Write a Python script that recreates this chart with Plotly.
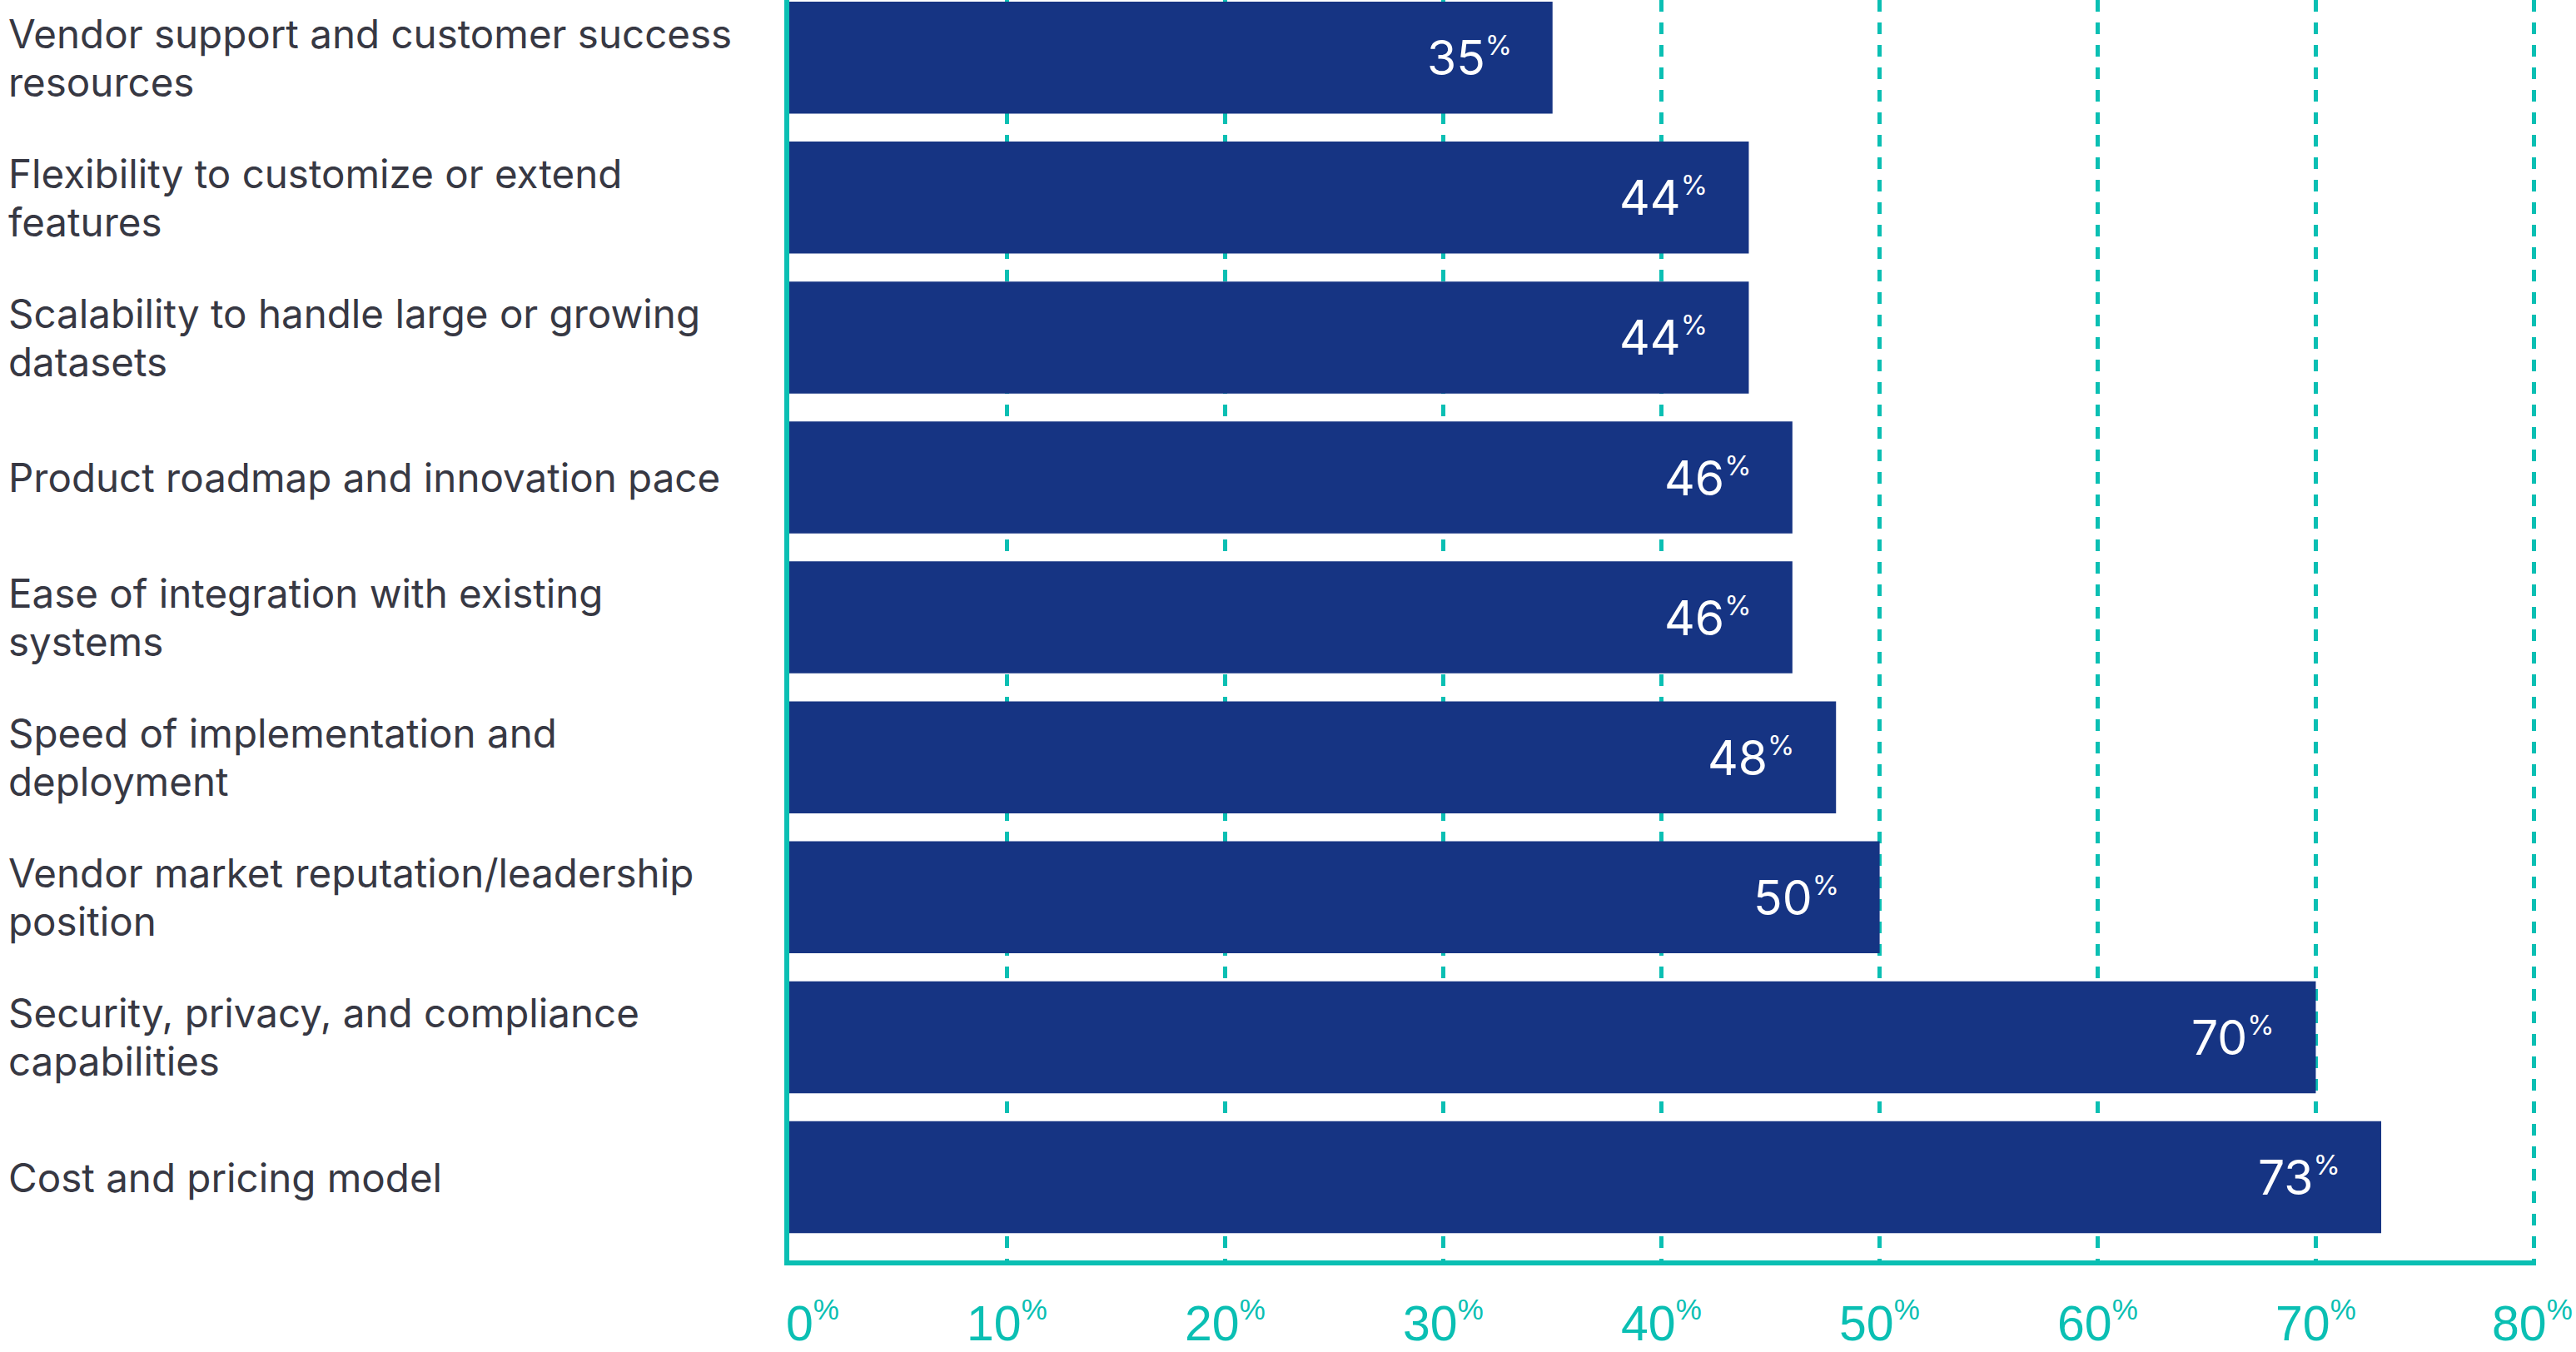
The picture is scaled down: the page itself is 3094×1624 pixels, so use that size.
import plotly.graph_objects as go

# ---- data (bottom -> top) ----
categories = [
    "Cost and pricing model",
    "Security, privacy, and compliance<br>capabilities",
    "Vendor market reputation/leadership<br>position",
    "Speed of implementation and<br>deployment",
    "Ease of integration with existing<br>systems",
    "Product roadmap and innovation pace",
    "Scalability to handle large or growing<br>datasets",
    "Flexibility to customize or extend<br>features",
    "Vendor support and customer success<br>resources",
]
values = [73, 70, 50, 48, 46, 46, 44, 44, 35]
tick_values = [0, 10, 20, 30, 40, 50, 60, 70, 80]
tick_labels = ["0", "10", "20", "30", "40", "50", "60", "70", "80"]

# ---- styling ----
W, H = 3094, 1624
ML, MR, MT, MB = 948, 48, 0, 110
PW = W - ML - MR
PH = H - MT - MB
TEAL = "#0ABFB3"
NAVY = "#163483"
TEXT = "#373843"
FONT = "Inter"
LINE_GAP = 58


def pct(num, size):
    return f"{num}<sup><span style='font-size:{size}px'>%</span></sup>"


fig = go.Figure()
fig.add_trace(go.Bar(
    x=values,
    y=list(range(len(categories))),
    orientation="h",
    marker=dict(color=NAVY, line=dict(width=0)),
    width=0.8,
    hoverinfo="skip",
))

annotations = []
# category labels (left aligned at figure left), one annotation per line
label_x = (8 - ML) / PW
for i, c in enumerate(categories):
    lines = c.split("<br>")
    n = len(lines)
    for k, ln in enumerate(lines):
        annotations.append(dict(
            x=label_x, xref="paper", xanchor="left",
            y=i, yref="y", yanchor="middle",
            yshift=((n - 1) / 2 - k) * LINE_GAP,
            text=ln, align="left", showarrow=False,
            font=dict(family=FONT, size=47.5, color=TEXT),
        ))
# value labels inside bars
for i, v in enumerate(values):
    annotations.append(dict(
        x=v, xref="x", xanchor="right", xshift=-47,
        y=i, yref="y", yanchor="middle",
        text=pct(v, 33), showarrow=False,
        font=dict(family=FONT, size=57, color="white"),
    ))
# x tick labels
tick_y = (H - MB - 1588) / PH
for tv, tl in zip(tick_values, tick_labels):
    if tv == 0:
        anchor, shift = "left", -6
    elif tv == tick_values[-1]:
        anchor, shift = "right", 49
    else:
        anchor, shift = "center", 0
    annotations.append(dict(
        x=tv, xref="x", xanchor=anchor, xshift=shift,
        y=tick_y, yref="paper", yanchor="middle",
        text=pct(tl, 35), showarrow=False,
        font=dict(family="Liberation Sans", size=59, color=TEAL),
    ))

pitch = 168.1
lo = -(H - MB - 1414) / pitch
hi = lo + PH / pitch

fig.update_layout(
    width=W, height=H,
    margin=dict(l=ML, r=MR, t=MT, b=MB, pad=0),
    paper_bgcolor="white", plot_bgcolor="white",
    showlegend=False,
    bargap=0.2,
    annotations=annotations,
    xaxis=dict(
        range=[0, 80.1], tickvals=tick_values, showticklabels=False,
        showgrid=True, gridcolor=TEAL, gridwidth=5, griddash="14px,13px",
        zeroline=False, showline=True, linecolor=TEAL, linewidth=6,
        ticks="", fixedrange=True,
    ),
    yaxis=dict(
        range=[lo, hi], showticklabels=False, showgrid=False, zeroline=False,
        showline=True, linecolor=TEAL, linewidth=6, ticks="", fixedrange=True,
    ),
)

fig.write_html("out.html")
